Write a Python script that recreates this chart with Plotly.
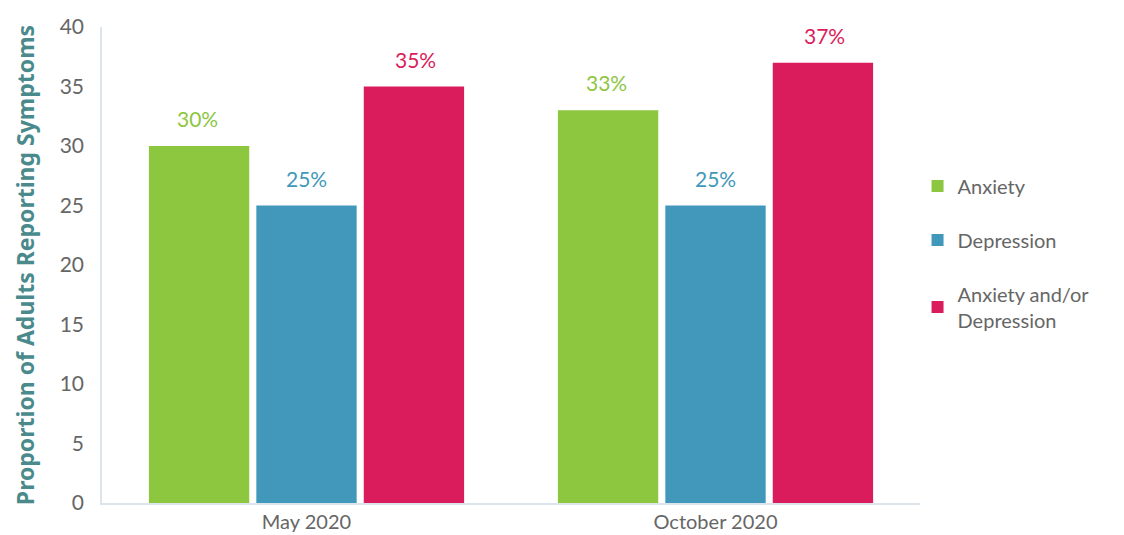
import plotly.graph_objects as go

categories = ["May 2020", "October 2020"]
anxiety = [30, 33]
depression = [25, 25]
either = [35, 37]
series_names = ["Anxiety", "Depression", "Anxiety and/or<br>Depression"]
colors = ["#8DC63F", "#4198BB", "#DA1C5C"]

FONT = "Lato, Noto Sans, sans-serif"

fig = go.Figure()
all_vals = [anxiety, depression, either]
for i, (name, vals, col) in enumerate(zip(series_names, all_vals, colors)):
    fig.add_trace(go.Bar(
        x=categories, y=vals, name=name,
        marker=dict(color=col, line=dict(width=0)),
        legendgroup=f"g{i}",
    ))
    for c, v in zip(categories, vals):
        fig.add_annotation(
            x=c, y=v, xref="x", yref="y", text=f"{v}%", showarrow=False,
            yanchor="bottom", yshift=13, xshift=(i - 1) * 109,
            font=dict(color=col, size=21, family=FONT),
        )

fig.update_layout(
    width=1116, height=527,
    margin=dict(l=94, r=204, t=19, b=32),
    plot_bgcolor="white", paper_bgcolor="white",
    barmode="group", bargap=0.212, bargroupgap=0.066,
    font=dict(family=FONT, color="#666666"),
    legend=dict(
        x=0.997, xanchor="left", y=0.525, yanchor="middle",
        font=dict(size=20, color="#666666", family=FONT),
        tracegroupgap=25, bgcolor="rgba(0,0,0,0)",
    ),
    showlegend=True,
)
fig.update_yaxes(
    range=[0, 40], dtick=5, showgrid=False, zeroline=False,
    showline=True, linecolor="#DCE4EC", linewidth=1.5,
    ticks="", tickfont=dict(size=21, color="#666666", family=FONT),
    ticklabelstandoff=12, automargin=False,
    title=dict(text="<b>Proportion of Adults Reporting Symptoms</b>",
               font=dict(size=23, color="#4A8A8C", family="Noto Sans, sans-serif"), standoff=19),
)
fig.update_xaxes(
    showgrid=False, showline=True, linecolor="#DCE4EC", linewidth=2,
    ticks="", tickfont=dict(size=20, color="#666666", family=FONT),
    automargin=False,
)

fig.write_html("out.html")
